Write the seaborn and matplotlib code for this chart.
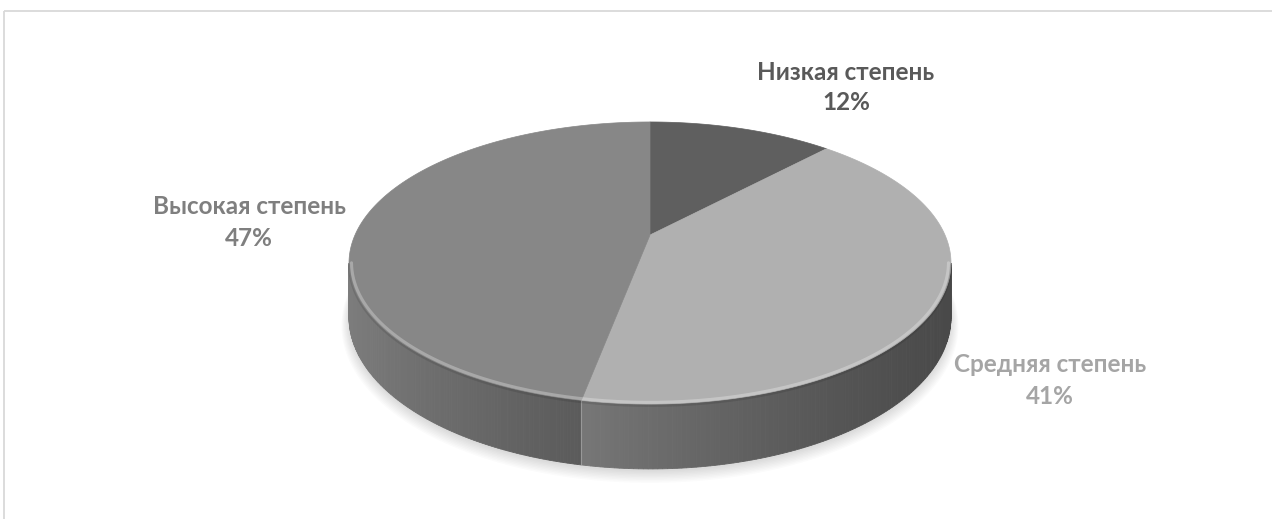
import numpy as np
import matplotlib
matplotlib.use("Agg")
import matplotlib.pyplot as plt
import seaborn as sns
from matplotlib.patches import Polygon, Rectangle

# ---- data ----
categories = ["Низкая степень", "Средняя степень", "Высокая степень"]
values = [12, 41, 47]
top_colors = ["#5f5f5f", "#b0b0b0", "#878787"]
label_colors = ["#595959", "#a5a5a5", "#7f7f7f"]
label_pos = [(846, 72), (1050, 365), (249, 207)]

sns.set_theme(style="white")
plt.rcParams['font.family'] = ['Lato', 'DejaVu Sans']

W, H = 1272, 519
fig = plt.figure(figsize=(W / 100, H / 100), dpi=100)
ax = fig.add_axes([0, 0, 1, 1])
ax.set_xlim(0, W)
ax.set_ylim(H, 0)
ax.axis('off')

# perspective projection of a horizontal disk
CX, CY = 650.0, 235.0
A, B, P = 295.0, -88.8, 0.1986
DEPTH = 52.0


def proj(theta, depth=0.0, r=1.0):
    u, v = r * np.cos(theta), r * np.sin(theta)
    d = 1 + P * v
    return CX + A * u / d, (B * v + CY + depth) / d


def hex2gray(h):
    return int(h[1:3], 16) / 255.0


# slice angles (clockwise from top)
fr = np.array(values, dtype=float) / np.sum(values)
cum = np.concatenate([[0], np.cumsum(fr)])
starts = np.pi / 2 - 2 * np.pi * cum[:-1]
ends = np.pi / 2 - 2 * np.pi * cum[1:]

vis_l = -(np.pi - np.arcsin(P))
vis_r = -np.arcsin(P)

# soft shadow
tt = np.linspace(0, 2 * np.pi, 400)
for k in range(9):
    xs, ys = proj(tt, DEPTH + 2 + k * 0.6, 1.0 + 0.003 * k)
    ax.add_patch(Polygon(np.column_stack([xs, ys]), closed=True,
                         facecolor='black', edgecolor='none', alpha=0.016, zorder=1))


def shade(theta):
    thl = np.deg2rad(-175)
    s = ((1 + np.cos(theta - thl)) / 2) ** 1.5
    return 0.41 + 0.52 * s


# side faces
for i in range(len(values)):
    base = hex2gray(top_colors[i])
    for off in (-2 * np.pi, 0, 2 * np.pi):
        lo = max(ends[i] + off, vis_l)
        hi = min(starts[i] + off, vis_r)
        if hi <= lo:
            continue
        th = np.linspace(lo, hi, 120)
        for a0, a1 in zip(th[:-1], th[1:]):
            x0, y0 = proj(a0)
            x1, y1 = proj(a1)
            x2, y2 = proj(a1, DEPTH)
            x3, y3 = proj(a0, DEPTH)
            g = min(1.0, base * shade((a0 + a1) / 2))
            ax.add_patch(Polygon([[x0, y0], [x1, y1], [x2, y2], [x3, y3]], closed=True,
                                 facecolor=(g, g, g), edgecolor=(g, g, g), lw=0.6, zorder=2))
        for a in (lo, hi):
            if abs(a - vis_l) > 1e-6 and abs(a - vis_r) > 1e-6:
                xa, ya = proj(a)
                xb, yb = proj(a, DEPTH)
                ax.plot([xa, xb], [ya, yb], color=(0.72, 0.72, 0.72), lw=0.8, alpha=0.4, zorder=3)

# top faces
for i in range(len(values)):
    th = np.linspace(starts[i], ends[i], 200)
    xs, ys = proj(th)
    pts = np.column_stack([np.concatenate([[CX], xs]), np.concatenate([[CY], ys])])
    ax.add_patch(Polygon(pts, closed=True, facecolor=top_colors[i],
                         edgecolor=top_colors[i], lw=0.5, zorder=4))

# bevel highlight on front rim
th = np.linspace(vis_l, vis_r, 300)
xs, ys = proj(th, 0, 0.992)
ax.plot(xs, ys, color='white', lw=2.2, alpha=0.28, zorder=5, solid_capstyle='round')
xs, ys = proj(th, 1.5, 1.0)
ax.plot(xs, ys, color='black', lw=1.5, alpha=0.10, zorder=5)

# labels
for i in range(len(values)):
    x, y = label_pos[i]
    ax.text(x, y, categories[i], ha='center', va='center', fontsize=17.5,
            fontweight='bold', color=label_colors[i], zorder=6)
    ax.text(x, y + 31, f"{values[i]}%", ha='center', va='center', fontsize=17.5,
            fontweight='bold', color=label_colors[i], zorder=6)

# chart frame
ax.add_patch(Rectangle((3.5, 10.5), W + 10, H + 10, fill=False,
                       edgecolor='#d9d9d9', lw=1.3, zorder=0))

fig.savefig("out.png", dpi=100, facecolor='white')
